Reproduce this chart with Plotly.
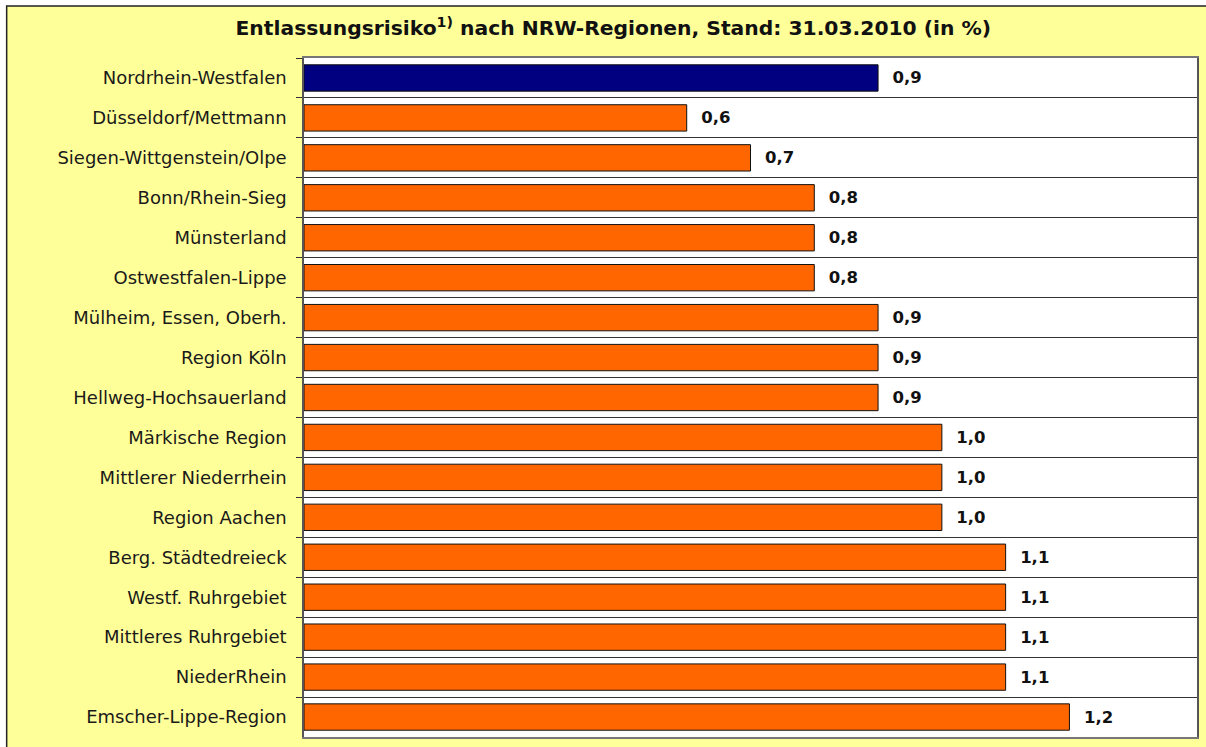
import plotly.graph_objects as go

regions = [
    "Nordrhein-Westfalen", "Düsseldorf/Mettmann", "Siegen-Wittgenstein/Olpe",
    "Bonn/Rhein-Sieg", "Münsterland", "Ostwestfalen-Lippe",
    "Mülheim, Essen, Oberh.", "Region Köln", "Hellweg-Hochsauerland",
    "Märkische Region", "Mittlerer Niederrhein", "Region Aachen",
    "Berg. Städtedreieck", "Westf. Ruhrgebiet", "Mittleres Ruhrgebiet",
    "NiederRhein", "Emscher-Lippe-Region",
]
risk = [0.9, 0.6, 0.7, 0.8, 0.8, 0.8, 0.9, 0.9, 0.9, 1.0, 1.0, 1.0, 1.1, 1.1, 1.1, 1.1, 1.2]

NAVY = "#000080"
ORANGE = "#FF6600"
YELLOW = "#FFFF99"
colors = [NAVY] + [ORANGE] * (len(regions) - 1)

W, H = 1206, 747
ML, MR, MT, MB = 304, 7, 58, 10
FONT = "DejaVu Sans"

fig = go.Figure(go.Bar(
    x=risk, y=regions, orientation="h",
    marker=dict(color=colors, line=dict(color="#111111", width=1)),
    width=0.66,
    texttemplate="\u00a0\u00a0%{x:.1f}", textposition="outside", cliponaxis=False,
    textfont=dict(family=FONT, size=16.5, color="#111111", weight=600),
    hoverinfo="skip",
))

pw = W - ML - MR
ph = H - MT - MB
# yellow outer frame
fig.add_shape(type="rect", xref="paper", yref="paper",
              x0=(6 - ML) / pw, x1=(W + 10 - ML) / pw,
              y0=-(MB + 20) / ph, y1=1 + (MT - 6) / ph,
              fillcolor=YELLOW, line=dict(color="#222222", width=1.5), layer="below")
# white plot area
fig.add_shape(type="rect", xref="paper", yref="paper", x0=0, x1=1, y0=0, y1=1,
              fillcolor="white", line=dict(width=0), layer="below")

fig.update_layout(
    width=W, height=H,
    margin=dict(l=ML, r=MR, t=MT, b=MB),
    paper_bgcolor="white", plot_bgcolor="white",
    separators=",.",
    showlegend=False,
    bargap=0.34,
    font=dict(family=FONT, size=18, color="#1a1a1a"),
    title=dict(text="Entlassungsrisiko<sup>1)</sup> nach NRW-Regionen, Stand: 31.03.2010 (in %)",
               x=(614 - ML) / pw, xref="paper", xanchor="center", y=1 - 28 / H, yanchor="middle",
               font=dict(family=FONT, size=20.3, color="#111111", weight="bold")),
    xaxis=dict(range=[0, 1.4], showticklabels=False, showgrid=False, zeroline=False,
               showline=True, mirror=True, linecolor="#777777", linewidth=1.5, ticks=""),
    yaxis=dict(autorange="reversed", type="category", tickson="boundaries",
               showgrid=True, gridcolor="#333333", gridwidth=1,
               ticks="outside", ticklen=6, tickcolor="#333333",
               showline=True, mirror=True, linecolor="#555555", linewidth=1.5,
               ticklabelstandoff=12, tickfont=dict(family=FONT, size=18, color="#1a1a1a")),
)

fig.write_html("out.html", config={"displayModeBar": False},
               post_script="document.body.style.margin='0';document.body.style.padding='0';")
